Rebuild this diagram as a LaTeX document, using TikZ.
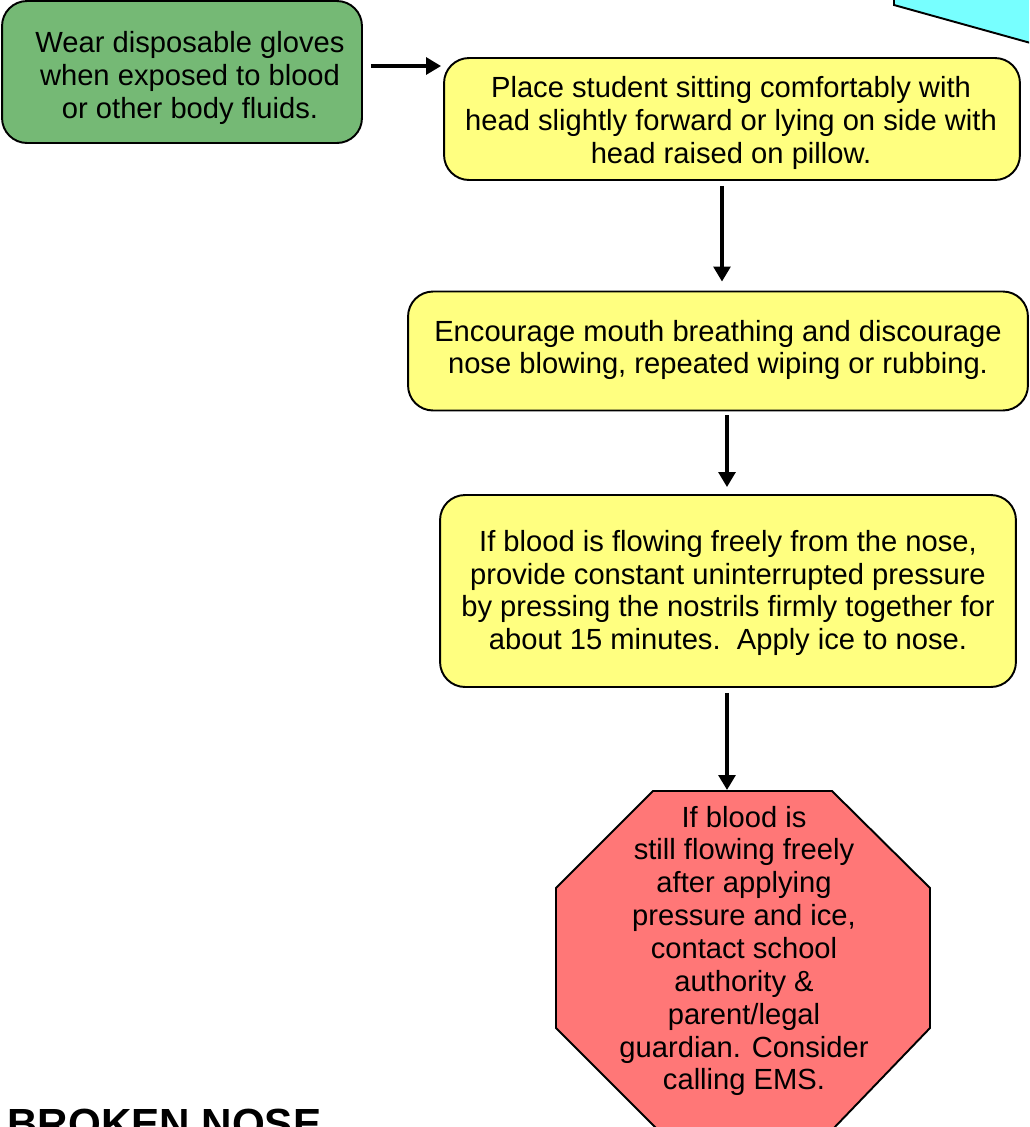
\documentclass[tikz,border=0pt]{standalone}
\usepackage{fontspec}
\setmainfont{Liberation Sans}
\usetikzlibrary{arrows.meta,calc}
\definecolor{boxgreen}{RGB}{117,185,117}
\definecolor{boxyellow}{RGB}{255,255,128}
\definecolor{stopred}{RGB}{255,119,119}
\definecolor{cornercyan}{RGB}{119,255,255}

\begin{document}
\begin{tikzpicture}[x=0.02cm,y=-0.02cm,
  box/.style={draw,line width=1.1pt,rounded corners=0.5cm,inner sep=0pt},
  greenbox/.style={box,fill=boxgreen},
  yellowbox/.style={box,fill=boxyellow},
  boxtext/.style={align=center,inner sep=0pt,font=\fontsize{16.6}{18.7}\selectfont},
  arr/.style={line width=2pt,-{Triangle[length=8.5pt,width=9.5pt]}}]

\useasboundingbox (0,0) rectangle (1029,1127);
\clip (0,0) rectangle (1029,1127);

\filldraw[fill=cornercyan,line width=1.1pt] (894,-10) -- (894,5) -- (1045,47) -- (1045,-10) -- cycle;

\node[greenbox,minimum width=7.2cm,minimum height=2.84cm] (gloves) at (182,72) {};
\node[boxtext] (glovestext) at ($(gloves)+(8,6)$) {Wear disposable gloves\\when exposed to blood\\or other body fluids.};
\node[yellowbox,minimum width=11.52cm,minimum height=2.44cm] (place) at (732,119) {};
\node[boxtext] (placetext) at ($(place)+(-1,4)$) {Place student sitting comfortably with\\head slightly forward or lying on side with\\head raised on pillow.};
\node[yellowbox,minimum width=12.4cm,minimum height=2.38cm] (mouth) at (718,351) {};
\node[boxtext] (mouthtext) at ($(mouth)+(0,-1)$) {Encourage mouth breathing and discourage\\nose blowing, repeated wiping or rubbing.};
\node[yellowbox,minimum width=11.52cm,minimum height=3.84cm] (press) at (728,591) {};
\node[boxtext] (presstext) at ($(press)+(0,2)$) {If blood is flowing freely from the nose,\\provide constant uninterrupted pressure\\by pressing the nostrils firmly together for\\about 15 minutes.\ \ Apply ice to nose.};

\filldraw[fill=stopred,line width=1.1pt] (653,791) -- (832,791) -- (930,888) -- (930,1028) -- (832,1130) -- (658,1130) -- (556,1028) -- (556,888) -- cycle;
\coordinate (stoptop) at (727,790);
\node[boxtext] (stop) at (744,951) {If blood is\\still flowing freely\\ after applying\\pressure and ice,\\contact school\\authority \&\\parent/legal\\guardian. Consider\\calling EMS.};

\node[anchor=base west,inner sep=0pt,font=\fontsize{24}{28}\selectfont\bfseries] (title) at (7,1138) {BROKEN NOSE};

\draw[arr] ($(gloves.east)+(8,-6)$) -- ($(gloves.east -| place.west)+(-2,-6)$);
\draw[arr] ($(place.south)+(-10,5)$) -- ($(mouth.north)+(4,-9)$);
\draw[arr] ($(mouth.south)+(9,4)$) -- ($(press.north)+(-1,-7)$);
\draw[arr] ($(press.south)+(-1,5)$) -- (stoptop);
\end{tikzpicture}
\end{document}
